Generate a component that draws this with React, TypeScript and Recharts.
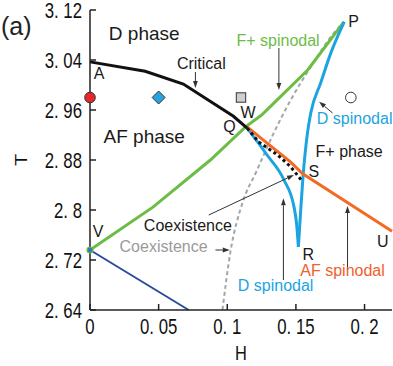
import React from "react";
import {
  ComposedChart,
  Line,
  Scatter,
  XAxis,
  YAxis,
  ReferenceLine,
  ReferenceDot,
} from "recharts";

const hTicks = [0, 0.05, 0.1, 0.15, 0.2];
const tTicks = [2.64, 2.72, 2.8, 2.88, 2.96, 3.04, 3.12];

// phase boundaries
const critical = [
  { h: 0, t: 3.037 },
  { h: 0.0402, t: 3.022 },
  { h: 0.068, t: 3.0016 },
  { h: 0.1045, t: 2.95 },
  { h: 0.1145, t: 2.931 },
];
const coexistence = [
  { h: 0.1145, t: 2.931 },
  { h: 0.1228, t: 2.909 },
  { h: 0.1367, t: 2.888 },
  { h: 0.1462, t: 2.869 },
  { h: 0.155, t: 2.845 },
];
const fPlusSpinodal = [
  { h: 0, t: 2.736 },
  { h: 0.0461, t: 2.805 },
  { h: 0.0877, t: 2.88 },
  { h: 0.1133, t: 2.933 },
  { h: 0.125, t: 2.952 },
  { h: 0.1586, t: 3.024 },
  { h: 0.185, t: 3.101 },
];
const dSpinodalLeft = [
  { h: 0.1145, t: 2.931 },
  { h: 0.129, t: 2.888 },
  { h: 0.1413, t: 2.848 },
  { h: 0.1486, t: 2.805 },
  { h: 0.1506, t: 2.776 },
  { h: 0.1518, t: 2.741 },
];
const dSpinodalRight = [
  { h: 0.1518, t: 2.741 },
  { h: 0.1535, t: 2.8 },
  { h: 0.155, t: 2.848 },
  { h: 0.1584, t: 2.923 },
  { h: 0.1608, t: 2.955 },
  { h: 0.168, t: 3.003 },
  { h: 0.1754, t: 3.051 },
  { h: 0.1852, t: 3.101 },
];
const afSpinodal = [
  { h: 0.1145, t: 2.933 },
  { h: 0.129, t: 2.907 },
  { h: 0.146, t: 2.877 },
  { h: 0.155, t: 2.858 },
  { h: 0.22, t: 2.766 },
];
const coexistenceGray = [
  { h: 0.0965, t: 2.64 },
  { h: 0.1023, t: 2.733 },
  { h: 0.111, t: 2.811 },
  { h: 0.1213, t: 2.862 },
  { h: 0.1338, t: 2.923 },
  { h: 0.1462, t: 2.976 },
  { h: 0.1608, t: 3.029 },
  { h: 0.1776, t: 3.083 },
  { h: 0.185, t: 3.101 },
];
const lowerLine = [
  { h: 0, t: 2.736 },
  { h: 0.0719, t: 2.64 },
];

const redPoint = [{ h: 0, t: 2.98 }];
const diamondPoint = [{ h: 0.05, t: 2.98 }];
const squarePoint = [{ h: 0.11, t: 2.98 }];
const openPoint = [{ h: 0.19, t: 2.98 }];
const vPoint = [{ h: 0, t: 2.736 }];

const labels = [
  { text: "D phase", h: 0.0395, t: 3.083, color: "#1a1a1a", size: 19 },
  { text: "AF phase", h: 0.0395, t: 2.918, color: "#1a1a1a", size: 19 },
  { text: "Critical", h: 0.0811, t: 3.035, color: "#1a1a1a", size: 16 },
  { text: "F+ spinodal", h: 0.137, t: 3.072, color: "#6cbd45", size: 16 },
  { text: "D spinodal", h: 0.1928, t: 2.946, color: "#1ba4e0", size: 16 },
  { text: "F+ phase", h: 0.1888, t: 2.893, color: "#1a1a1a", size: 16 },
  { text: "Coexistence", h: 0.0713, t: 2.776, color: "#1a1a1a", size: 16 },
  { text: "Coexistence", h: 0.0536, t: 2.741, color: "#9a9a9a", size: 16 },
  { text: "D spinodal", h: 0.1352, t: 2.68, color: "#1ba4e0", size: 16 },
  { text: "AF spinodal", h: 0.184, t: 2.7032, color: "#f0602a", size: 16 },
  { text: "A", h: 0.0066, t: 3.018, color: "#1a1a1a", size: 16 },
  { text: "V", h: 0.0059, t: 2.765, color: "#1a1a1a", size: 16 },
  { text: "P", h: 0.192, t: 3.102, color: "#1a1a1a", size: 16 },
  { text: "Q", h: 0.1016, t: 2.934, color: "#1a1a1a", size: 16 },
  { text: "W", h: 0.1151, t: 2.956, color: "#1a1a1a", size: 16 },
  { text: "S", h: 0.163, t: 2.862, color: "#1a1a1a", size: 16 },
  { text: "R", h: 0.159, t: 2.7296, color: "#1a1a1a", size: 16 },
  { text: "U", h: 0.2132, t: 2.75, color: "#1a1a1a", size: 16 },
];

const arrows = [
  { h1: 0.0768, t1: 3.0208, h2: 0.0768, t2: 2.9952 },
  { h1: 0.1376, t1: 3.0592, h2: 0.1376, t2: 2.992 },
  { h1: 0.1767, t1: 2.9552, h2: 0.1669, t2: 2.9733 },
  { h1: 0.0865, t1: 2.792, h2: 0.1486, t2: 2.856 },
  { h1: 0.0914, t1: 2.736, h2: 0.1018, t2: 2.736 },
  { h1: 0.1409, t1: 2.688, h2: 0.1409, t2: 2.8187 },
  { h1: 0.1876, t1: 2.704, h2: 0.1876, t2: 2.8064 },
];

const sans = "'Liberation Sans', Arial, sans-serif";
const fmt = (v: number) => String(v).replace(".", ". ");
const squeeze = 0.78;

// narrow, tall axis digits like the original figure
const XTick = (p: any) => (
  <text
    transform={`translate(${p.x},${p.y}) scale(${squeeze},1)`}
    textAnchor="middle"
    dy="0.71em"
    fill="#111"
    fontSize={21.5}
    fontFamily={sans}
  >
    {fmt(p.payload.value)}
  </text>
);

const YTick = (p: any) => (
  <text
    transform={`translate(${p.x},${p.y}) scale(${squeeze},1)`}
    textAnchor="end"
    dy="0.355em"
    fill="#111"
    fontSize={21.5}
    fontFamily={sans}
  >
    {fmt(p.payload.value)}
  </text>
);

const arrowShape = (p: any) => {
  const { x1, y1, x2, y2 } = p;
  const a = Math.atan2(y2 - y1, x2 - x1);
  const len = 7;
  const w = 2.4;
  const bx = x2 - len * Math.cos(a);
  const by = y2 - len * Math.sin(a);
  const pts = [
    `${x2},${y2}`,
    `${bx + w * Math.sin(a)},${by - w * Math.cos(a)}`,
    `${bx - w * Math.sin(a)},${by + w * Math.cos(a)}`,
  ].join(" ");
  return (
    <g>
      <line x1={x1} y1={y1} x2={bx} y2={by} stroke="#333" strokeWidth={1} />
      <polygon points={pts} fill="#333" />
    </g>
  );
};

export default function App() {
  return (
    <div style={{ position: "absolute", left: 0, top: 0, width: 393, height: 366, background: "#fff" }}>
      <div
        style={{
          position: "absolute",
          left: 1,
          top: 14,
          fontFamily: sans,
          fontSize: 25,
          lineHeight: "25px",
          color: "#222",
        }}
      >
        (a)
      </div>
      <ComposedChart width={393} height={366} margin={{ top: 10, right: 1, bottom: 0, left: 0 }}>
        <XAxis
          dataKey="h"
          type="number"
          domain={[0, 0.22]}
          ticks={hTicks}
          interval={0}
          tickSize={-6}
          tickMargin={15}
          height={56}
          axisLine={{ stroke: "#222", strokeWidth: 1.5 }}
          tickLine={{ stroke: "#222", strokeWidth: 1.5 }}
          tick={XTick}
          label={{
            content: (props: any) => {
              const vb = props.viewBox;
              const cx = vb.x + vb.width / 2;
              const cy = vb.y + vb.height - 6;
              return (
                <text
                  transform={`translate(${cx},${cy}) scale(${squeeze},1)`}
                  textAnchor="middle"
                  fill="#111"
                  fontSize={21}
                  fontFamily={sans}
                >
                  H
                </text>
              );
            },
          }}
        />
        <XAxis
          xAxisId="top"
          orientation="top"
          type="number"
          domain={[0, 0.22]}
          ticks={hTicks}
          interval={0}
          tickSize={-6}
          height={0}
          tick={false}
          axisLine={{ stroke: "#222", strokeWidth: 1.5 }}
          tickLine={{ stroke: "#222", strokeWidth: 1.5 }}
        />
        <YAxis
          type="number"
          domain={[2.64, 3.12]}
          ticks={tTicks}
          interval={0}
          tickSize={-6}
          tickMargin={14}
          width={90}
          axisLine={{ stroke: "#222", strokeWidth: 1.5 }}
          tickLine={{ stroke: "#222", strokeWidth: 1.5 }}
          tick={YTick}
          label={{
            content: (props: any) => {
              const vb = props.viewBox;
              const cx = vb.x + 22;
              const cy = vb.y + vb.height / 2;
              return (
                <text
                  transform={`translate(${cx},${cy}) rotate(-90) scale(1,${squeeze})`}
                  textAnchor="middle"
                  dominantBaseline="central"
                  fill="#111"
                  fontSize={20}
                  fontFamily={sans}
                >
                  T
                </text>
              );
            },
          }}
        />
        <YAxis
          yAxisId="right"
          orientation="right"
          type="number"
          domain={[2.64, 3.12]}
          ticks={tTicks}
          interval={0}
          tickSize={-6}
          width={0}
          tick={false}
          axisLine={{ stroke: "#222", strokeWidth: 1.5 }}
          tickLine={{ stroke: "#222", strokeWidth: 1.5 }}
        />

        <Line data={coexistenceGray} dataKey="t" type="monotone" stroke="#a5a5a5" strokeWidth={2} strokeDasharray="4 3" dot={false} activeDot={false} isAnimationActive={false} />
        <Line data={fPlusSpinodal} dataKey="t" type="linear" stroke="#6cbd45" strokeWidth={3} dot={false} activeDot={false} isAnimationActive={false} />
        <Line data={dSpinodalLeft} dataKey="t" type="monotone" stroke="#1ba4e0" strokeWidth={3} dot={false} activeDot={false} isAnimationActive={false} />
        <Line data={dSpinodalRight} dataKey="t" type="monotone" stroke="#1ba4e0" strokeWidth={3} dot={false} activeDot={false} isAnimationActive={false} />
        <Line data={afSpinodal} dataKey="t" type="linear" stroke="#f26a24" strokeWidth={3} dot={false} activeDot={false} isAnimationActive={false} />
        <Line data={coexistence} dataKey="t" type="linear" stroke="#111" strokeWidth={3} strokeDasharray="3 3" dot={false} activeDot={false} isAnimationActive={false} />
        <Line data={critical} dataKey="t" type="linear" stroke="#111" strokeWidth={3} dot={false} activeDot={false} isAnimationActive={false} />
        <Line data={lowerLine} dataKey="t" type="linear" stroke="#2b4ba0" strokeWidth={2} dot={false} activeDot={false} isAnimationActive={false} />

        {arrows.map((a, i) => (
          <ReferenceLine
            key={"ar" + i}
            segment={[
              { x: a.h1, y: a.t1 },
              { x: a.h2, y: a.t2 },
            ]}
            stroke="#333"
            shape={arrowShape}
          />
        ))}

        <Scatter data={vPoint} dataKey="t" isAnimationActive={false}
          shape={(p: any) => <circle cx={p.cx} cy={p.cy} r={3} fill="#3a78c0" stroke="#6cbd45" strokeWidth={1.2} />} />
        <Scatter data={redPoint} dataKey="t" isAnimationActive={false}
          shape={(p: any) => <circle cx={p.cx} cy={p.cy} r={5.3} fill="#e8252a" stroke="#333" strokeWidth={1} />} />
        <Scatter data={diamondPoint} dataKey="t" isAnimationActive={false}
          shape={(p: any) => (
            <polygon
              points={`${p.cx},${p.cy - 6.5} ${p.cx + 6.5},${p.cy} ${p.cx},${p.cy + 6.5} ${p.cx - 6.5},${p.cy}`}
              fill="#2aa3dc"
              stroke="#333"
              strokeWidth={1}
            />
          )} />
        <Scatter data={squarePoint} dataKey="t" isAnimationActive={false}
          shape={(p: any) => <rect x={p.cx - 4.7} y={p.cy - 4.7} width={9.4} height={9.4} fill="#cfcfcf" stroke="#333" strokeWidth={1} />} />
        <Scatter data={openPoint} dataKey="t" isAnimationActive={false}
          shape={(p: any) => <circle cx={p.cx} cy={p.cy} r={5.3} fill="#fff" stroke="#333" strokeWidth={1} />} />

        {labels.map((l, i) => (
          <ReferenceDot
            key={"lb" + i}
            x={l.h}
            y={l.t}
            r={0}
            shape={(p: any) => (
              <text
                x={p.cx}
                y={p.cy}
                textAnchor="middle"
                dominantBaseline="central"
                fill={l.color}
                fontSize={l.size}
                fontFamily={sans}
              >
                {l.text}
              </text>
            )}
          />
        ))}
      </ComposedChart>
    </div>
  );
}
